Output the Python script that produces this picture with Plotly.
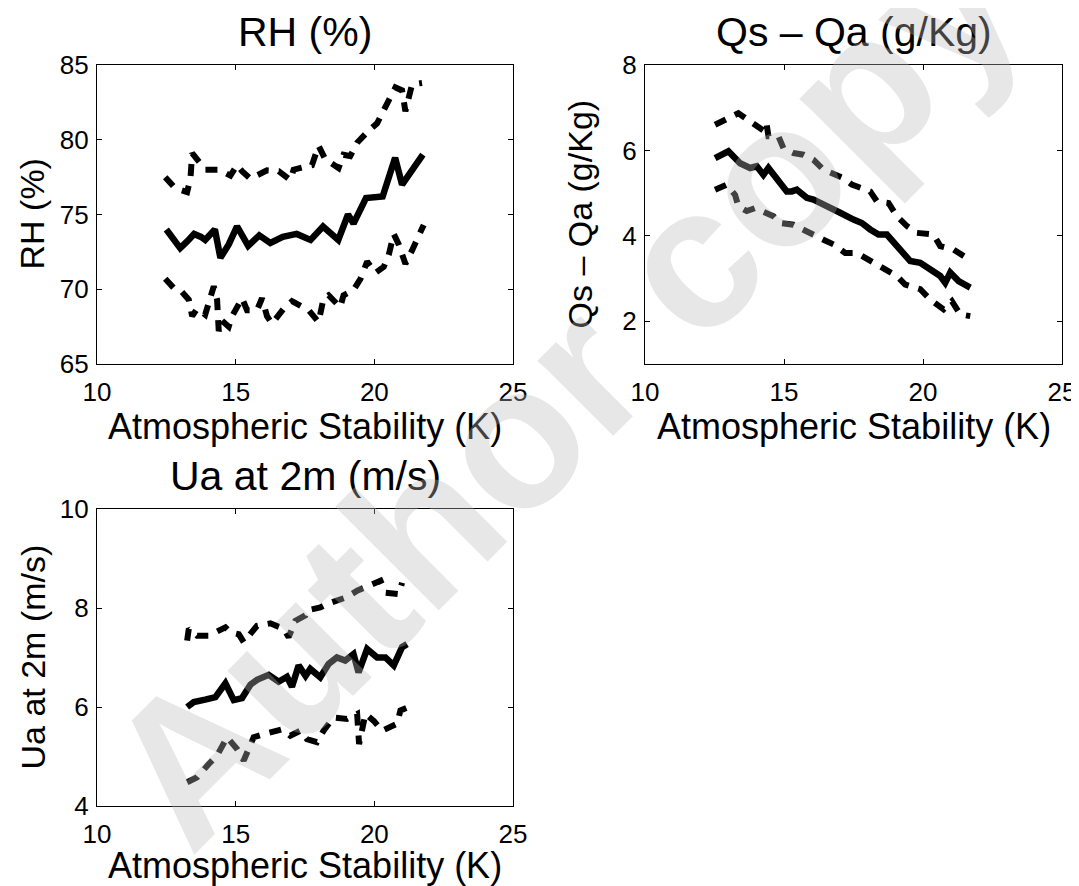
import plotly.graph_objects as go

# ---------------- data ----------------
# Panel 1: RH (%)
rh_mean_x = [12.5, 13.0, 13.25, 13.5, 13.75, 13.9, 14.25, 14.45, 14.75, 15.05, 15.45, 15.85,
             16.25, 16.7, 17.2, 17.7, 18.15, 18.7, 19.05, 19.25, 19.7, 20.15, 20.3, 20.75,
             21.0, 21.75]
rh_mean_y = [74.0, 72.75, 73.2, 73.7, 73.5, 73.3, 74.0, 72.1, 73.0, 74.2, 72.9, 73.6,
             73.1, 73.5, 73.7, 73.3, 74.2, 73.3, 75.0, 74.4, 76.1, 76.1, 76.2, 78.8,
             77.0, 79.0]
rh_up_x = [12.46, 12.82, 13.25, 13.37, 13.43, 13.61, 13.91, 14.39, 14.81, 15.05, 15.23, 15.53,
           16.13, 16.55, 16.97, 17.09, 17.33, 17.75, 17.99, 18.23, 18.71, 18.89, 19.13, 19.38,
           19.74, 20.1, 20.4, 20.76, 21.0, 21.12, 21.36, 21.72]
rh_up_y = [77.5, 76.75, 76.5, 77.4, 79.1, 78.7, 78.0, 78.0, 77.6, 78.3, 77.9, 77.4,
           77.95, 77.9, 77.3, 78.0, 78.1, 78.3, 79.6, 78.7, 78.1, 79.0, 78.9, 79.8,
           80.5, 81.1, 82.2, 83.5, 83.3, 81.9, 83.7, 83.8]
rh_lo_x = [12.46, 12.76, 13.0, 13.31, 13.43, 13.61, 13.9, 14.03, 14.21, 14.33, 14.39, 14.51,
           14.75, 14.87, 15.23, 15.41, 15.77, 15.95, 16.13, 16.31, 16.73, 17.03, 17.63, 17.99,
           18.17, 18.35, 18.77, 18.89, 19.25, 19.5, 19.74, 20.04, 20.34, 20.52, 20.7, 20.88,
           21.12, 21.36, 21.6, 21.78]
rh_lo_y = [70.7, 70.1, 69.95, 69.3, 68.2, 68.7, 68.3, 69.1, 70.2, 69.3, 67.2, 67.9,
           67.5, 68.2, 69.4, 68.6, 68.6, 69.4, 68.2, 67.7, 68.7, 69.2, 68.6, 67.8,
           69.4, 69.6, 68.8, 69.6, 69.95, 70.7, 71.85, 71.1, 71.5, 72.3, 73.7, 73.0,
           71.7, 72.6, 73.7, 74.3]

# Panel 2: Qs - Qa (g/Kg)
qd_mean_x = [12.52, 13.0, 13.42, 13.78, 14.02, 14.26, 14.44, 14.74, 15.1, 15.28, 15.46, 15.82,
             16.06, 16.3, 16.6, 17.02, 17.5, 17.8, 18.1, 18.4, 18.7, 18.94, 19.3, 19.54,
             19.9, 20.26, 20.62, 20.8, 20.98, 21.28, 21.7]
qd_mean_y = [5.82, 5.98, 5.70, 5.59, 5.63, 5.43, 5.59, 5.35, 5.04, 5.04, 5.08, 4.89,
             4.85, 4.77, 4.69, 4.54, 4.38, 4.30, 4.15, 4.03, 4.03, 3.84, 3.56, 3.41,
             3.37, 3.21, 3.06, 2.90, 3.14, 2.94, 2.79]
qd_up_x = [12.52, 12.94, 13.36, 13.54, 13.84, 14.08, 14.32, 14.38, 14.44, 14.8, 14.98, 15.34,
           15.7, 16.06, 16.42, 17.14, 17.44, 18.1, 18.34, 18.76, 19.06, 19.42, 19.78, 20.38,
           20.62, 21.1, 21.52, 21.65]
qd_up_y = [6.60, 6.72, 6.87, 6.79, 6.64, 6.52, 6.44, 6.60, 6.33, 6.33, 6.05, 5.94,
           5.90, 5.78, 5.55, 5.35, 5.20, 5.04, 4.81, 4.77, 4.46, 4.23, 4.07, 4.03,
           3.76, 3.68, 3.49, 3.45]
qd_lo_x = [12.52, 12.94, 13.24, 13.36, 13.66, 13.96, 14.62, 14.86, 15.34, 15.76, 16.42, 16.78,
           17.2, 17.62, 18.1, 18.58, 19.06, 19.36, 19.9, 20.26, 20.74, 21.04, 21.34, 21.7]
qd_lo_y = [5.08, 5.20, 4.96, 4.69, 4.58, 4.65, 4.46, 4.30, 4.26, 4.11, 3.91, 3.80,
           3.60, 3.60, 3.41, 3.25, 3.06, 2.86, 2.75, 2.51, 2.28, 2.47, 2.16, 2.12]

# Panel 3: Ua at 2m (m/s)
ua_mean_x = [13.25, 13.49, 13.9, 14.27, 14.63, 14.93, 15.23, 15.53, 15.77, 16.19, 16.55, 16.85,
             17.03, 17.27, 17.52, 17.69, 18.05, 18.35, 18.65, 18.95, 19.25, 19.43, 19.74, 20.1,
             20.4, 20.7, 21.0, 21.18]
ua_mean_y = [6.00, 6.10, 6.15, 6.20, 6.48, 6.14, 6.18, 6.45, 6.55, 6.65, 6.51, 6.61,
             6.41, 6.84, 6.63, 6.77, 6.60, 6.87, 7.00, 6.94, 7.07, 6.70, 7.17, 7.00,
             7.00, 6.84, 7.21, 7.27]
ua_up_x = [13.25, 13.31, 13.61, 14.03, 14.63, 14.81, 15.11, 15.29, 15.77, 16.25, 16.73, 16.91,
           17.15, 17.51, 17.57, 18.05, 18.29, 19.01, 19.38, 19.74, 20.22, 20.4, 20.88, 21.0]
ua_up_y = [7.34, 7.58, 7.44, 7.44, 7.61, 7.51, 7.47, 7.31, 7.64, 7.69, 7.58, 7.41,
           7.74, 7.85, 7.95, 8.01, 8.08, 8.22, 8.35, 8.45, 8.55, 8.31, 8.28, 8.51]
ua_lo_x = [13.25, 13.61, 14.03, 14.33, 14.69, 15.05, 15.29, 15.65, 16.01, 16.67, 16.97, 17.33,
           17.57, 17.93, 18.17, 18.53, 19.01, 19.38, 19.45, 19.68, 19.98, 20.28, 20.82, 20.94,
           21.24]
ua_lo_y = [4.48, 4.58, 4.85, 5.02, 5.39, 5.15, 4.92, 5.39, 5.45, 5.55, 5.42, 5.52,
           5.35, 5.29, 5.52, 5.79, 5.76, 5.86, 5.25, 5.86, 5.72, 5.52, 5.66, 5.93,
           6.00]

titles = ["RH (%)", "Qs \u2013 Qa (g/Kg)", "Ua at 2m (m/s)"]
xlabel = "Atmospheric Stability (K)"
x_ticks = [10, 15, 20, 25]
y_ticks = [[65, 70, 75, 80, 85], [2, 4, 6, 8], [4, 6, 8, 10]]
y_ranges = [[65, 85], [1, 8], [4, 10]]

# ---------------- figure ----------------
# the page body adds an 8 px margin, so the figure is 8 px smaller and all
# screen positions are shifted by OFF
OFF = 8
W, H = 1079 - OFF, 886 - OFF
FONT = "Liberation Sans, Arial, Helvetica, sans-serif"
LW = 6
DASH = "12px,10px"

fig = go.Figure()

panels = [
    (rh_mean_x, rh_mean_y, rh_up_x, rh_up_y, rh_lo_x, rh_lo_y),
    (qd_mean_x, qd_mean_y, qd_up_x, qd_up_y, qd_lo_x, qd_lo_y),
    (ua_mean_x, ua_mean_y, ua_up_x, ua_up_y, ua_lo_x, ua_lo_y),
]
# screen-pixel boxes of the three axes: (left, right, top, bottom)
boxes = [(97, 513, 65, 364), (645, 1062, 65, 364), (97, 513, 509, 806)]
xlabel_gap = [62, 62, 59]


def px(x):
    return (x - OFF) / W


def py(y):
    return 1 - (y - OFF) / H


for i, (mx, my, ux, uy, lx, ly) in enumerate(panels):
    xa = "x" if i == 0 else f"x{i+1}"
    ya = "y" if i == 0 else f"y{i+1}"
    fig.add_trace(go.Scatter(x=ux, y=uy, mode="lines", xaxis=xa, yaxis=ya,
                             line=dict(color="black", width=LW, dash=DASH), showlegend=False))
    fig.add_trace(go.Scatter(x=lx, y=ly, mode="lines", xaxis=xa, yaxis=ya,
                             line=dict(color="black", width=LW, dash=DASH), showlegend=False))
    fig.add_trace(go.Scatter(x=mx, y=my, mode="lines", xaxis=xa, yaxis=ya,
                             line=dict(color="black", width=LW + 0.5), showlegend=False))

    l, r, t, b = boxes[i]
    axcommon = dict(showline=True, linecolor="black", linewidth=1.3, mirror="ticks",
                    ticks="inside", ticklen=5, tickwidth=1, tickcolor="black",
                    showgrid=False, zeroline=False, automargin=False,
                    tickfont=dict(family=FONT, size=26, color="black"))
    fig.update_layout(**{
        ("xaxis" if i == 0 else f"xaxis{i+1}"): dict(
            domain=[px(l), px(r)], range=[10, 25], tickvals=x_ticks, anchor=ya,
            ticklabelstandoff=5, **axcommon),
        ("yaxis" if i == 0 else f"yaxis{i+1}"): dict(
            domain=[py(b), py(t)], range=y_ranges[i], tickvals=y_ticks[i], anchor=xa,
            ticklabelstandoff=2, **axcommon),
    })
    cx = px((l + r) / 2)
    # subplot title
    fig.add_annotation(text=titles[i], x=cx, y=py(t - 33), xref="paper", yref="paper",
                       showarrow=False, xanchor="center", yanchor="middle",
                       font=dict(family=FONT, size=41, color="black"))
    # x-axis title
    fig.add_annotation(text=xlabel, x=cx, y=py(b + xlabel_gap[i]), xref="paper", yref="paper",
                       showarrow=False, xanchor="center", yanchor="middle",
                       font=dict(family=FONT, size=36, color="black"))
    # y-axis title
    fig.add_annotation(text=titles[i], x=px(l - 65), y=py((t + b) / 2),
                       xref="paper", yref="paper", textangle=-90,
                       showarrow=False, xanchor="center", yanchor="middle",
                       font=dict(family=FONT, size=34, color="black"))

# watermark
fig.add_annotation(text="<b>Author copy</b>", x=px(562), y=py(388), xref="paper", yref="paper",
                   showarrow=False, textangle=-45, xanchor="center", yanchor="middle",
                   font=dict(family=FONT, size=202, color="rgba(185,185,185,0.35)"))

fig.update_layout(width=W, height=H, margin=dict(l=0, r=0, t=0, b=0),
                  paper_bgcolor="white", plot_bgcolor="white", showlegend=False)

fig.write_html("out.html")
